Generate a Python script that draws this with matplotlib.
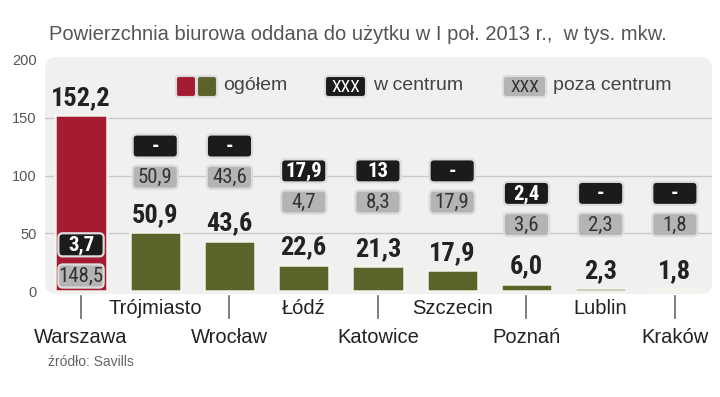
import matplotlib
matplotlib.use('Agg')
import matplotlib.pyplot as plt
from matplotlib.patches import FancyBboxPatch

# data (tys. mkw.)
cities = ['Warszawa', 'Trójmiasto', 'Wrocław', 'Łódź', 'Katowice',
          'Szczecin', 'Poznań', 'Lublin', 'Kraków']
total = [152.2, 50.9, 43.6, 22.6, 21.3, 17.9, 6.0, 2.3, 1.8]
centre = [3.7, None, None, 17.9, 13, None, 2.4, None, None]
outside = [148.5, 50.9, 43.6, 4.7, 8.3, 17.9, 3.6, 2.3, 1.8]

# layout: centre of the black box for each city (data units)
box_y = [40, 125.5, 125.5, 104, 104, 104, 84.5, 84.5, 84.5]

RED = '#a51b31'
OLIVE = '#5a6329'
BLACK = '#1b1b1b'
GREY = '#b4b4b4'
BG = '#f0f0f0'
NARROW = ['Roboto Condensed', 'Roboto', 'DejaVu Sans']
SANS = ['Liberation Sans', 'DejaVu Sans']

W, H = 720, 397


def fx(x):
    return x / W


def fy(y):
    return 1 - y / H


def fmt(v):
    if v is None:
        return '-'
    s = ('%g' % v) if v == int(v) and v >= 10 else '%.1f' % v
    return s.replace('.', ',')


fig = plt.figure(figsize=(7.2, 3.97), dpi=100)

# grey panel behind the plot
bg = FancyBboxPatch((fx(45), fy(294)), fx(712) - fx(45), fy(57) - fy(294),
                    boxstyle='round,pad=0,rounding_size=0.016', mutation_aspect=W / H,
                    transform=fig.transFigure, facecolor=BG, edgecolor='none', zorder=0)
fig.add_artist(bg)

ax = fig.add_axes([fx(45), fy(293), 667 / W, 235 / H])
ax.patch.set_visible(False)
ax.set_xlim(-0.485, 8.5)
ax.set_ylim(-1.7, 201.7)
for s in ax.spines.values():
    s.set_visible(False)
ax.set_xticks([])
ax.set_yticks([0, 50, 100, 150, 200])
ax.tick_params(axis='y', length=0, pad=6, labelsize=10.5, labelcolor='#555555')
for lab in ax.get_yticklabels():
    lab.set_family(SANS)
for g in [50, 100, 150]:
    ax.axhline(g, color='#c9c9c9', lw=1, zorder=1)

x = list(range(len(cities)))
colors = [RED] + [OLIVE] * (len(cities) - 1)
ax.bar(x, total, width=0.69, color=colors, edgecolor='#f4f4ee', linewidth=1.8, zorder=2)

asp = (1 / 1.155) / (1 / 74.2)
bw, bh = 0.61, 20


def box(cx, cy, face, text, tcolor, weight):
    p = FancyBboxPatch((cx - bw / 2, cy - bh / 2), bw, bh,
                       boxstyle='round,pad=0,rounding_size=0.06', mutation_aspect=asp,
                       facecolor=face, edgecolor='#dcdcdc', linewidth=1.6, zorder=4)
    ax.add_patch(p)
    ax.text(cx, cy - 0.5, text, ha='center', va='center', fontsize=15, color=tcolor,
            fontweight=weight, family=NARROW, zorder=5)


for i in x:
    ax.annotate(fmt(total[i]), xy=(i, total[i]), xytext=(0, 7.5), textcoords='offset points',
                ha='center', va='baseline', fontsize=19, fontweight='bold',
                color='#222222', family=NARROW)
    box(i, box_y[i], BLACK, fmt(centre[i]), 'white', 'bold')
    box(i, box_y[i] - 27, GREY, fmt(outside[i]), '#333333', 'normal')

    if i % 2 == 0:
        ax.plot([i, i], [-4.3, -23.5], color='#666666', lw=1.2, clip_on=False)
        ly = -40
    else:
        ly = -15.5
    ax.text(i, ly, cities[i], ha='center', va='center', fontsize=14.5,
            color='#222222', family=SANS, clip_on=False)

# legend
ly0, ly1 = 76, 97
fig.add_artist(FancyBboxPatch((fx(176), fy(ly1)), fx(196) - fx(176), fy(ly0) - fy(ly1),
                              boxstyle='round,pad=0,rounding_size=0.004', mutation_aspect=W / H,
                              transform=fig.transFigure, facecolor=RED, edgecolor='#dcdcdc', lw=1.5))
fig.add_artist(FancyBboxPatch((fx(197), fy(ly1)), fx(217) - fx(197), fy(ly0) - fy(ly1),
                              boxstyle='round,pad=0,rounding_size=0.004', mutation_aspect=W / H,
                              transform=fig.transFigure, facecolor=OLIVE, edgecolor='#dcdcdc', lw=1.5))
fig.text(fx(223), fy(86), 'ogółem', ha='left', va='center', fontsize=14, color='#444444', family=SANS)

for x0, x1, face, tc, label in [(325, 366, BLACK, 'white', 'w centrum'),
                                 (503, 546, GREY, '#333333', 'poza centrum')]:
    fig.add_artist(FancyBboxPatch((fx(x0), fy(ly1)), fx(x1) - fx(x0), fy(ly0) - fy(ly1),
                                  boxstyle='round,pad=0,rounding_size=0.005', mutation_aspect=W / H,
                                  transform=fig.transFigure, facecolor=face, edgecolor='#dcdcdc', lw=1.5))
    fig.text(fx((x0 + x1) / 2), fy(87), 'XXX', ha='center', va='center', fontsize=12.5,
             color=tc, family=NARROW)
    fig.text(fx(x1 + 7), fy(86), label, ha='left', va='center', fontsize=14,
             color='#444444', family=SANS)

fig.text(fx(49), fy(34), 'Powierzchnia biurowa oddana do użytku w I poł. 2013 r.,  w tys. mkw.',
         ha='left', va='center', fontsize=14.5, color='#555555', family=SANS)
fig.text(fx(48), fy(362), 'źródło: Savills', ha='left', va='center', fontsize=10,
         color='#666666', family=SANS)

fig.savefig('out.png', dpi=100, facecolor='white')
